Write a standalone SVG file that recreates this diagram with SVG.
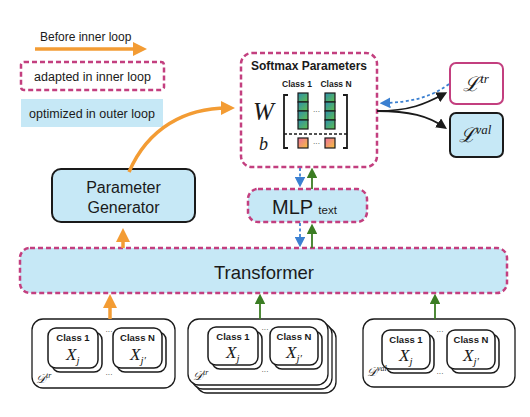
<svg xmlns="http://www.w3.org/2000/svg" width="530" height="417" viewBox="0 0 530 417">
<defs>
<style>
.sans{font-family:"Liberation Sans",Arial,sans-serif;fill:#1a1a1a}
.b{font-weight:bold}
.math{font-family:"Liberation Serif","DejaVu Serif",serif;font-style:italic;fill:#1a1a1a}
.pink{fill:none;stroke:#c33f7f;stroke-width:2.5;stroke-dasharray:5 3}
.pinkfill{fill:#c6e8f6;stroke:#c33f7f;stroke-width:2.5;stroke-dasharray:5 3}
.solid{fill:#c6e8f6;stroke:#1a1a1a;stroke-width:2}
.card{fill:#fff;stroke:#1a1a1a;stroke-width:1.5}
.grp{fill:#fff;stroke:#1a1a1a;stroke-width:1.3}
.orange{fill:none;stroke:#f39c34;stroke-width:3.5}
.green{fill:none;stroke:#3b7d23;stroke-width:1.8}
.blue{fill:none;stroke:#3b80d1;stroke-width:1.8;stroke-dasharray:3 2.5}
.blk{fill:none;stroke:#1a1a1a;stroke-width:1.8}
</style>
<linearGradient id="gw" x1="0" y1="0" x2="1" y2="1">
<stop offset="0" stop-color="#2e8fb0"/><stop offset="1" stop-color="#5fbf4a"/>
</linearGradient>
<linearGradient id="gb" x1="0" y1="0" x2="1" y2="1">
<stop offset="0" stop-color="#ee6fa0"/><stop offset="1" stop-color="#f6c23a"/>
</linearGradient>
<marker id="ao" markerWidth="4" markerHeight="4" refX="2" refY="2" orient="auto" markerUnits="strokeWidth">
<path d="M0,0 L4,2 L0,4 z" fill="#f39c34"/>
</marker>
<marker id="ag" markerWidth="6" markerHeight="6" refX="3" refY="3" orient="auto" markerUnits="strokeWidth">
<path d="M0,0 L6,3 L0,6 z" fill="#3b7d23"/>
</marker>
<marker id="ab" markerWidth="6" markerHeight="6" refX="3" refY="3" orient="auto" markerUnits="strokeWidth">
<path d="M0,0 L6,3 L0,6 z" fill="#3b80d1"/>
</marker>
<marker id="ak" markerWidth="6" markerHeight="6" refX="4" refY="3" orient="auto" markerUnits="strokeWidth">
<path d="M0,0 L6,3 L0,6 z" fill="#1a1a1a"/>
</marker>
</defs>
<rect width="530" height="417" fill="#fff"/>

<g id="legend">
<text class="sans" x="40" y="41" font-size="12">Before inner loop</text>
<line class="orange" x1="35" y1="49" x2="140" y2="49" marker-end="url(#ao)"/>
<rect class="pink" x="21" y="62" width="143" height="28" rx="3"/>
<text class="sans" x="92.5" y="80.5" font-size="12.5" text-anchor="middle">adapted in inner loop</text>
<rect x="21" y="99" width="142" height="28" fill="#c6e8f6"/>
<text class="sans" x="92" y="117.5" font-size="12.5" text-anchor="middle">optimized in outer loop</text>
</g>

<g id="softmax">
<rect class="pink" x="241" y="53" width="136" height="114" rx="11"/>
<text class="sans b" x="309" y="70" font-size="12" text-anchor="middle">Softmax Parameters</text>
<text class="sans b" x="297" y="87" font-size="8.5" text-anchor="middle">Class 1</text>
<text class="sans b" x="336" y="87" font-size="8.5" text-anchor="middle">Class N</text>
<text class="math" x="253" y="120" font-size="25">W</text>
<text class="math" x="259" y="150" font-size="18">b</text>
<path d="M288,95 H284 V148 H288 M343,95 H347 V148 H343" fill="none" stroke="#1a1a1a" stroke-width="1.8"/>
<g stroke="#1a1a1a" stroke-width="1.2" fill="url(#gw)">
<rect x="298" y="93" width="10" height="9"/><rect x="298" y="102" width="10" height="9"/><rect x="298" y="111" width="10" height="9"/><rect x="298" y="120" width="10" height="9"/>
<rect x="325" y="93" width="10" height="9"/><rect x="325" y="102" width="10" height="9"/><rect x="325" y="111" width="10" height="9"/><rect x="325" y="120" width="10" height="9"/>
</g>
<line x1="284" y1="134" x2="347" y2="134" stroke="#1a1a1a" stroke-width="1.5" stroke-dasharray="3 2"/>
<g stroke="#1a1a1a" stroke-width="1.2" fill="url(#gb)">
<rect x="298" y="138" width="10" height="10"/><rect x="325" y="138" width="10" height="10"/>
</g>
<text class="sans" x="316.5" y="114" font-size="7" text-anchor="middle">···</text>
<text class="sans" x="316.5" y="146" font-size="7" text-anchor="middle">···</text>
</g>

<g id="ltr">
<rect x="450" y="63" width="53" height="41" rx="6" fill="#fff" stroke="#c33f7f" stroke-width="2"/>
<text class="math" x="476" y="91" font-size="20" text-anchor="middle" font-style="normal">ℒ<tspan font-size="13" dy="-8" font-style="italic">tr</tspan></text>
</g>
<g id="lval">
<rect class="solid" x="450" y="113" width="53" height="44" rx="6"/>
<text class="math" x="475" y="142" font-size="20" text-anchor="middle" font-style="normal">ℒ<tspan font-size="13" dy="-8" font-style="italic">val</tspan></text>
</g>

<g id="mlp">
<rect class="pinkfill" x="248" y="189" width="119" height="33" rx="10"/>
<text class="sans" x="272" y="214" font-size="20">MLP <tspan font-size="11.5">text</tspan></text>
</g>

<g id="generator">
<rect class="solid" x="52" y="169" width="143" height="53" rx="9"/>
<text class="sans" x="123.5" y="193" font-size="16" text-anchor="middle">Parameter</text>
<text class="sans" x="123.5" y="213" font-size="16" text-anchor="middle">Generator</text>
</g>

<g id="transformer">
<rect class="pinkfill" x="20" y="248" width="487" height="45" rx="10"/>
<text class="sans" x="264" y="279" font-size="18.5" text-anchor="middle">Transformer</text>
</g>

<g id="dtr1">
<rect class="grp" x="32" y="319" width="143" height="69" rx="11"/>
<rect class="card" x="52" y="332" width="50" height="40" rx="8"/>
<rect class="card" x="48" y="328" width="50" height="40" rx="8"/>
<rect class="card" x="117" y="332" width="49" height="40" rx="8"/>
<rect class="card" x="113" y="328" width="49" height="40" rx="8"/>
<text class="sans b" x="73" y="341" font-size="9.5" text-anchor="middle">Class 1</text>
<text class="sans b" x="137.5" y="341" font-size="9.5" text-anchor="middle">Class N</text>
<text class="math" x="66" y="360" font-size="17">X<tspan font-size="11" dy="4">j</tspan></text>
<text class="math" x="130" y="360" font-size="17">X<tspan font-size="11" dy="4">j′</tspan></text>
<text class="sans" x="109" y="334" font-size="7" text-anchor="middle">···</text>
<text class="sans" x="109" y="377" font-size="7" text-anchor="middle">···</text>
<text class="math" x="36" y="383" font-size="12">𝒟<tspan font-size="8" dy="-5">tr</tspan></text>
</g>

<g id="dtr2">
<rect class="grp" x="196" y="327" width="140" height="66" rx="11"/>
<rect class="grp" x="192" y="323" width="140" height="66" rx="11"/>
<rect class="grp" x="188" y="319" width="140" height="66" rx="11"/>
<rect class="card" x="212" y="331" width="50" height="38" rx="8"/>
<rect class="card" x="208" y="327" width="50" height="38" rx="8"/>
<rect class="card" x="274" y="331" width="48" height="38" rx="8"/>
<rect class="card" x="270" y="327" width="48" height="38" rx="8"/>
<text class="sans b" x="233" y="340" font-size="9.5" text-anchor="middle">Class 1</text>
<text class="sans b" x="294" y="340" font-size="9.5" text-anchor="middle">Class N</text>
<text class="math" x="226" y="358" font-size="17">X<tspan font-size="11" dy="4">j</tspan></text>
<text class="math" x="286" y="358" font-size="17">X<tspan font-size="11" dy="4">j′</tspan></text>
<text class="sans" x="265" y="332" font-size="7" text-anchor="middle">···</text>
<text class="sans" x="265" y="374" font-size="7" text-anchor="middle">···</text>
<text class="math" x="193" y="380" font-size="12">𝒟<tspan font-size="8" dy="-5">tr</tspan></text>
</g>

<g id="dval">
<rect class="grp" x="363" y="319" width="152" height="68" rx="11"/>
<rect class="card" x="386" y="334" width="48" height="39" rx="8"/>
<rect class="card" x="382" y="330" width="48" height="39" rx="8"/>
<rect class="card" x="451" y="334" width="48" height="39" rx="8"/>
<rect class="card" x="447" y="330" width="48" height="39" rx="8"/>
<text class="sans b" x="406" y="343" font-size="9.5" text-anchor="middle">Class 1</text>
<text class="sans b" x="471" y="343" font-size="9.5" text-anchor="middle">Class N</text>
<text class="math" x="399" y="361" font-size="17">X<tspan font-size="11" dy="4">j</tspan></text>
<text class="math" x="463" y="361" font-size="17">X<tspan font-size="11" dy="4">j′</tspan></text>
<text class="sans" x="440" y="334" font-size="7" text-anchor="middle">···</text>
<text class="sans" x="440" y="376" font-size="7" text-anchor="middle">···</text>
<text class="math" x="367" y="376" font-size="12">𝒟<tspan font-size="8" dy="-5">val</tspan></text>
</g>

<g id="connectors">
<path class="orange" d="M129,172 C148,128 185,108 228,108" marker-end="url(#ao)"/>
<line class="orange" x1="123" y1="248" x2="123" y2="235" marker-end="url(#ao)"/>
<line class="orange" x1="110" y1="319" x2="110" y2="301" marker-end="url(#ao)"/>
<line class="green" x1="260" y1="319" x2="260" y2="299" marker-end="url(#ag)"/>
<line class="green" x1="435" y1="319" x2="435" y2="299" marker-end="url(#ag)"/>
<line class="green" x1="312" y1="248" x2="312" y2="229" marker-end="url(#ag)"/>
<line class="green" x1="312" y1="189" x2="312" y2="173" marker-end="url(#ag)"/>
<line class="blue" x1="300" y1="223" x2="300" y2="242" marker-end="url(#ab)"/>
<line class="blue" x1="300" y1="168" x2="300" y2="182" marker-end="url(#ab)"/>
<path class="blk" d="M377,111 C410,111 425,104 444,94" marker-end="url(#ak)"/>
<path class="blk" d="M377,111 C410,111 428,116 444,127" marker-end="url(#ak)"/>
<path class="blue" d="M449,84 C430,98 410,102 385,103" marker-end="url(#ab)"/>
</g>
</svg>
